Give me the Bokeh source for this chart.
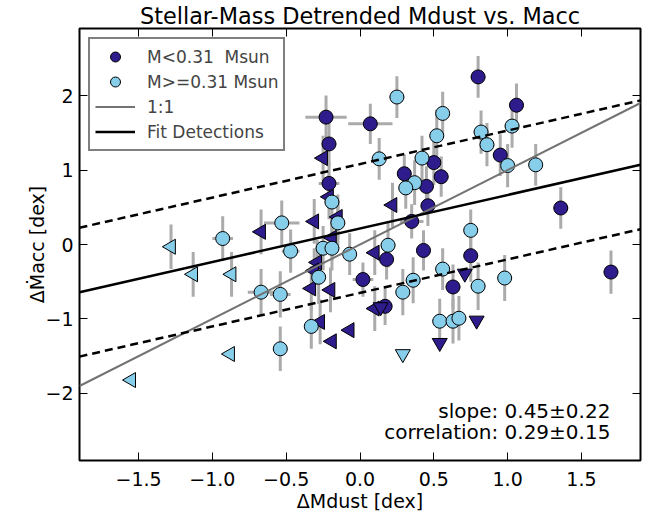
import numpy as np
from bokeh.plotting import figure
from bokeh.models import (ColumnDataSource, FixedTicker, LinearAxis, Label,
                          Legend, LegendItem, Range1d)
from bokeh.embed import file_html
from bokeh.resources import INLINE

# ---------------- data ----------------
XLIM = (-1.9, 1.9)
YLIM = (-2.9, 2.9)
x_ticks = [-1.5, -1.0, -0.5, 0.0, 0.5, 1.0, 1.5]
x_tick_labels = ["\u22121.5", "\u22121.0", "\u22120.5", "0.0", "0.5", "1.0", "1.5"]
y_ticks = [-2, -1, 0, 1, 2]
y_tick_labels = ["\u22122", "\u22121", "0", "1", "2"]

# low-mass detections (M < 0.31 Msun)
lo_x = [-0.23, 0.07, -0.21, -0.21, 0.30, 0.50, 0.55, 0.45, 0.46, 0.80, 1.06,
        0.95, 1.36, 0.35, 0.43, 0.18, 0.02, 0.63, 0.17, 0.75, 1.70]
lo_y = [1.71, 1.62, 1.35, 0.82, 0.95, 1.10, 0.91, 0.78, 0.52, 2.25, 1.87,
        1.20, 0.49, 0.31, -0.08, -0.20, -0.47, -0.57, -0.83, -0.15, -0.37]
lo_yerr = [0.29, 0.27, 0.30, 0.30, 0.26, 0.30, 0.27, 0.27, 0.27, 0.28, 0.29,
           0.28, 0.28, 0.23, 0.27, 0.27, 0.23, 0.30, 0.25, 0.35, 0.29]
lo_xerr = [0.14, 0.15, 0.05, 0.07, 0.05, 0.05, 0.05, 0.05, 0.05, 0.05, 0.05,
           0.05, 0.05, 0.08, 0.05, 0.05, 0.07, 0.05, 0.05, 0.05, 0.05]

# high-mass detections (M >= 0.31 Msun)
hi_x = [0.25, 0.56, 0.52, 0.13, 0.42, 0.37, 0.31, 0.82, 0.86, 1.03, 1.00, 1.19,
        0.75, 0.19, -0.19, -0.15, -0.53, -0.93, -0.47, -0.25, -0.19, -0.07,
        -0.28, 0.29, 0.36, 0.56, 0.80, 0.98, 0.54, 0.63, 0.67, -0.67, -0.54,
        -0.33, -0.54]
hi_y = [1.98, 1.76, 1.46, 1.15, 1.16, 0.83, 0.76, 1.51, 1.34, 1.59, 1.06, 1.07,
        0.19, -0.01, 0.57, 0.29, 0.29, 0.08, -0.09, -0.05, -0.05, -0.13,
        -0.44, -0.64, -0.48, -0.33, -0.56, -0.45, -1.03, -1.03, -0.99, -0.64,
        -0.67, -1.10, -1.40]
hi_yerr = [0.28, 0.29, 0.35, 0.28, 0.30, 0.30, 0.28, 0.29, 0.29, 0.29, 0.29,
           0.28, 0.28, 0.30, 0.30, 0.30, 0.30, 0.30, 0.29, 0.30, 0.30, 0.28,
           0.36, 0.31, 0.31, 0.28, 0.32, 0.31, 0.30, 0.30, 0.30, 0.31, 0.31,
           0.30, 0.30]
hi_xerr = [0.05, 0.05, 0.05, 0.05, 0.05, 0.05, 0.05, 0.05, 0.05, 0.05, 0.05,
           0.05, 0.05, 0.05, 0.05, 0.05, 0.12, 0.07, 0.06, 0.05, 0.05, 0.05,
           0.05, 0.05, 0.05, 0.05, 0.05, 0.05, 0.05, 0.05, 0.05, 0.09, 0.07,
           0.05, 0.05]

# upper limits in dust mass (left-pointing triangles)
lo_xlim_x = [-0.25, -0.21, -0.15, -0.31, -0.67, -0.19, 0.22, -0.29, -0.31,
             -0.33, -0.20, 0.10, 0.10, -0.27, -0.07, -0.19]
lo_xlim_y = [1.16, 0.64, 0.37, 0.31, 0.17, 0.09, 0.53, -0.24, -0.35, -0.59,
             -0.61, -0.11, -0.86, -1.04, -1.15, -1.30]
lo_xlim_yerr = [0.30, 0.30, 0.30, 0.30, 0.30, 0.30, 0.30, 0.30, 0.30, 0.30,
                0.30, 0.30, 0.30, 0.30, 0.0, 0.0]
hi_xlim_x = [-1.28, -1.13, -0.87, -0.88, -1.55]
hi_xlim_y = [-0.03, -0.40, -0.40, -1.47, -1.82]
hi_xlim_yerr = [0.30, 0.30, 0.30, 0.0, 0.0]

# upper limits in accretion rate (down-pointing triangles)
lo_ylim_x = [0.14, 0.71, 0.79, 0.54]
lo_ylim_y = [-0.84, -0.39, -1.02, -1.32]
hi_ylim_x = [0.29]
hi_ylim_y = [-1.47]

# fit to detections
fit_slope = 0.45
fit_intercept = 0.215
fit_scatter = 0.865

DARK = "#2f1c8c"
LIGHT = "#87ceeb"
BAR = "#ababab"

# ---------------- figure ----------------
p = figure(width=655, height=518, x_range=Range1d(*XLIM), y_range=Range1d(*YLIM),
           output_backend="svg", toolbar_location=None,
           title="Stellar-Mass Detrended Mdust vs. Macc",
           min_border_left=79, min_border_right=15, min_border_top=26,
           min_border_bottom=58)
p.grid.visible = False
p.outline_line_color = "black"
p.outline_line_width = 2
p.background_fill_color = "white"
p.border_fill_color = "white"

p.title.align = "center"
p.title.text_font = "DejaVu Sans"
p.title.text_font_size = "22.4px"
p.title.text_font_style = "normal"
p.title.text_color = "black"
p.title.standoff = 0
p.title.offset = 0

xt = FixedTicker(ticks=x_ticks)
yt = FixedTicker(ticks=y_ticks)
for ax, t, labs in ((p.xaxis[0], xt, x_tick_labels), (p.yaxis[0], yt, y_tick_labels)):
    ax.ticker = t
    ax.major_label_overrides = {v: s for v, s in zip(t.ticks, labs)}
    ax.major_label_text_font = "DejaVu Sans"
    ax.major_label_text_font_size = "19px"
    ax.major_label_text_color = "black"
    ax.major_tick_in = 8
    ax.major_tick_out = 0
    ax.major_tick_line_color = "black"
    ax.minor_tick_line_color = None
    ax.axis_line_color = None
    ax.axis_label_text_font = "DejaVu Sans"
    ax.axis_label_text_font_size = "19px"
    ax.axis_label_text_font_style = "normal"
    ax.axis_label_text_color = "black"

p.xaxis[0].major_label_standoff = 11
p.xaxis[0].axis_label_standoff = 1
p.xaxis[0].axis_label = "\u0394Mdust [dex]"
p.yaxis[0].major_label_standoff = 6
p.yaxis[0].axis_label_standoff = -6
p.yaxis[0].axis_label = "\u0394\u1e40acc [dex]"

for loc, t in (("above", xt), ("right", yt)):
    ax = LinearAxis(ticker=t, major_label_overrides={v: "" for v in t.ticks},
                    major_label_text_font_size="1px", major_tick_in=8,
                    major_tick_out=0, minor_tick_line_color=None,
                    axis_line_color=None, major_label_standoff=0,
                    major_tick_line_color="black")
    p.add_layout(ax, loc)

# ---------------- error bars ----------------
def bars(xs, ys, yerr, xerr=None):
    xs = np.asarray(xs, float); ys = np.asarray(ys, float)
    ye = np.asarray(yerr, float)
    xe = np.zeros_like(xs) if xerr is None else np.asarray(xerr, float)
    return (np.concatenate([xs, xs - xe]), np.concatenate([ys - ye, ys]),
            np.concatenate([xs, xs + xe]), np.concatenate([ys + ye, ys]))

segs = [bars(lo_x, lo_y, lo_yerr, lo_xerr), bars(lo_xlim_x, lo_xlim_y, lo_xlim_yerr),
        bars(hi_x, hi_y, hi_yerr, hi_xerr), bars(hi_xlim_x, hi_xlim_y, hi_xlim_yerr)]
seg_src = ColumnDataSource(dict(
    x0=np.concatenate([s[0] for s in segs]), y0=np.concatenate([s[1] for s in segs]),
    x1=np.concatenate([s[2] for s in segs]), y1=np.concatenate([s[3] for s in segs])))
p.segment("x0", "y0", "x1", "y1", source=seg_src, line_color=BAR, line_width=3)

# ---------------- markers ----------------
r_lo = p.scatter(lo_x, lo_y, marker="circle", size=14, fill_color=DARK,
                 line_color="black", line_width=1)
p.scatter(lo_xlim_x, lo_xlim_y, marker="triangle", angle=np.pi / 2, size=15,
          fill_color=DARK, line_color="black", line_width=1)
p.scatter(lo_ylim_x, lo_ylim_y, marker="inverted_triangle", size=15,
          fill_color=DARK, line_color="black", line_width=1)
r_hi = p.scatter(hi_x, hi_y, marker="circle", size=14, fill_color=LIGHT,
                 line_color="black", line_width=1)
p.scatter(hi_xlim_x, hi_xlim_y, marker="triangle", angle=np.pi / 2, size=15,
          fill_color=LIGHT, line_color="black", line_width=1)
p.scatter(hi_ylim_x, hi_ylim_y, marker="inverted_triangle", size=15,
          fill_color=LIGHT, line_color="black", line_width=1)

# ---------------- lines ----------------
xl = np.array(XLIM)
r_one = p.line(xl, xl, line_color="#737373", line_width=2)
r_fit = p.line(xl, fit_slope * xl + fit_intercept, line_color="black", line_width=2.5)
p.line(xl, fit_slope * xl + fit_intercept + fit_scatter, line_color="black",
       line_width=2.5, line_dash="8 5")
p.line(xl, fit_slope * xl + fit_intercept - fit_scatter, line_color="black",
       line_width=2.5, line_dash="8 5")

legend = Legend(items=[
    LegendItem(label="M<0.31  Msun", renderers=[r_lo]),
    LegendItem(label="M>=0.31 Msun", renderers=[r_hi]),
    LegendItem(label="1:1", renderers=[r_one]),
    LegendItem(label="Fit Detections", renderers=[r_fit]),
], location="top_left")
legend.margin = 9
legend.padding = 5
legend.spacing = 0
legend.glyph_width = 40
legend.glyph_height = 25
legend.label_height = 25
legend.label_standoff = 12
legend.label_text_font = "DejaVu Sans"
legend.label_text_font_size = "17px"
legend.border_line_color = "black"
legend.border_line_width = 2
legend.background_fill_alpha = 1.0
p.add_layout(legend, "center")

# ---------------- fit statistics text ----------------
for yy, txt in ((-2.233, "slope: 0.45\u00b10.22"), (-2.513, "correlation: 0.29\u00b10.15")):
    p.add_layout(Label(x=1.696, y=yy, text=txt, text_align="right",
                       text_baseline="alphabetic", text_font="DejaVu Sans",
                       text_font_size="20px", text_color="black"))

open("out.html", "w").write(file_html(p, INLINE))
